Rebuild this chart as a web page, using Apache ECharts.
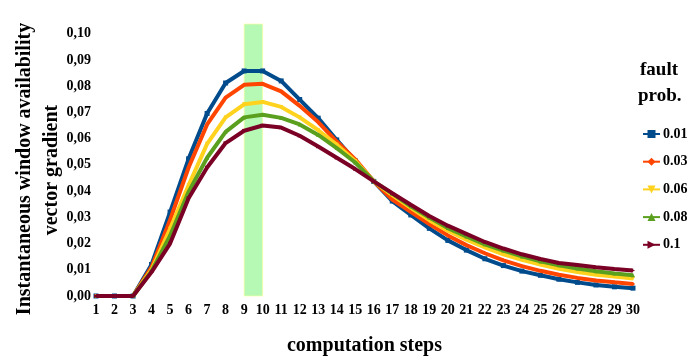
<!DOCTYPE html>
<html><head><meta charset="utf-8">
<script src="https://cdn.jsdelivr.net/npm/echarts@6/dist/echarts.min.js"></script>
<style>html,body{margin:0;padding:0;background:#fff}#c{width:688px;height:361px}</style>
</head><body><div id="c"></div>
<script>
const categories = ['1','2','3','4','5','6','7','8','9','10','11','12','13','14','15','16','17','18','19','20','21','22','23','24','25','26','27','28','29','30'];
const yTicks = ['0,00','0,01','0,02','0,03','0,04','0,05','0,06','0,07','0,08','0,09','0,10'];
const seriesNames = ['0.01','0.03','0.06','0.08','0.1'];
const p001 = [0,0,0,0.012,0.032,0.0523,0.0696,0.0812,0.0858,0.0858,0.0820,0.0749,0.0678,0.0595,0.0515,0.0437,0.0362,0.0309,0.0258,0.0212,0.0175,0.0142,0.0116,0.0095,0.0079,0.0064,0.0052,0.0042,0.0035,0.0030];
const p003 = [0,0,0,0.011,0.029,0.049,0.0654,0.0756,0.0805,0.0809,0.0780,0.0725,0.0663,0.0589,0.0521,0.0437,0.0368,0.0321,0.0274,0.0231,0.0194,0.0163,0.0136,0.0114,0.0096,0.0081,0.0069,0.0059,0.0052,0.0046];
const p006 = [0,0,0,0.010,0.0256,0.0422,0.0580,0.0681,0.0731,0.0740,0.0721,0.0681,0.0632,0.0577,0.0515,0.0437,0.0385,0.0336,0.0289,0.0249,0.0215,0.0185,0.0159,0.0138,0.0120,0.0104,0.0091,0.0081,0.0074,0.0067];
const p008 = [0,0,0,0.0095,0.023,0.0397,0.0527,0.0626,0.0681,0.0691,0.0679,0.0654,0.0614,0.0564,0.0509,0.0437,0.0390,0.0342,0.0299,0.0259,0.0227,0.0197,0.0173,0.0151,0.0132,0.0117,0.0105,0.0094,0.0086,0.0079];
const p010 = [0,0,0,0.0091,0.020,0.0373,0.0490,0.0583,0.0630,0.0650,0.0642,0.0611,0.0570,0.0527,0.0484,0.0437,0.0392,0.0348,0.0305,0.0268,0.0237,0.0206,0.0181,0.0159,0.0141,0.0126,0.0118,0.0110,0.0103,0.0097];
const bandFrom = '9', bandTo = '10';

const FONT = 'Liberation Serif';
const colors = ['#004b8c','#ff4500','#ffd21e','#5aa01e','#7a0025'];
const symbols = ['rect','diamond','triangle','triangle','triangle'];
const rotates = [0,0,180,0,-90];
const datas = [p001,p003,p006,p008,p010];

const chart = echarts.init(document.getElementById('c'), null, {renderer:'canvas'});
const series = datas.map((d,i)=>({
  name: seriesNames[i], type:'line', data:d,
  symbol: symbols[i], symbolSize: i===0 ? 5 : 4, symbolRotate: rotates[i], showAllSymbol:true,
  lineStyle:{color:colors[i], width:4}, itemStyle:{color:colors[i]},
  z: 2 + i, animation:false
}));
series.push({
  type:'line', data:[], z:20, silent:true, animation:false,
  markArea:{silent:true, itemStyle:{color:'rgba(0,235,0,0.29)', borderColor:'rgba(255,255,150,0.6)', borderWidth:1},
    data:[[{xAxis:bandFrom},{xAxis:bandTo}]]}
});
chart.setOption({
  animation:false,
  backgroundColor:'#fff',
  grid:{left:96, right:55, top:24, bottom:58, containLabel:false},
  xAxis:{type:'category', data:categories, boundaryGap:false,
    axisLine:{show:false}, axisTick:{show:false}, splitLine:{show:false},
    axisLabel:{interval:0, margin:7, color:'#000', fontFamily:FONT, fontWeight:'bold', fontSize:14},
    name:'computation steps', nameLocation:'middle', nameGap:40,
    nameTextStyle:{color:'#000', fontFamily:FONT, fontWeight:'bold', fontSize:20}
  },
  yAxis:{type:'value', min:0, max:0.1037, interval:0.01,
    axisLine:{show:false}, axisTick:{show:false}, splitLine:{show:false},
    axisLabel:{margin:5, color:'#000', fontFamily:FONT, fontWeight:'bold', fontSize:14,
      formatter:(v)=>{const k=Math.round(v*100); return Math.abs(v*100-k)<1e-6 ? yTicks[k] : '';}}
  },
  legend:{orient:'vertical', left:637, top:122, itemWidth:17, itemHeight:10, itemGap:13.7,
    data:seriesNames, textStyle:{color:'#000', fontFamily:FONT, fontWeight:'bold', fontSize:14, padding:[0,0,0,-2]}},
  graphic:[
    {type:'text', left:640, top:61, style:{text:'fault', font:'bold 19px "Liberation Serif"', fill:'#000'}},
    {type:'text', left:638, top:87, style:{text:'prob.', font:'bold 19px "Liberation Serif"', fill:'#000'}},
    {type:'text', x:25, y:169, rotation:Math.PI/2, style:{text:'Instantaneous window availability', font:'bold 20px "Liberation Serif"', fill:'#000', align:'center', verticalAlign:'middle'}},
    {type:'text', x:52, y:170, rotation:Math.PI/2, style:{text:'vector gradient', font:'bold 20px "Liberation Serif"', fill:'#000', align:'center', verticalAlign:'middle'}}
  ],
  series: series
});
</script></body></html>
